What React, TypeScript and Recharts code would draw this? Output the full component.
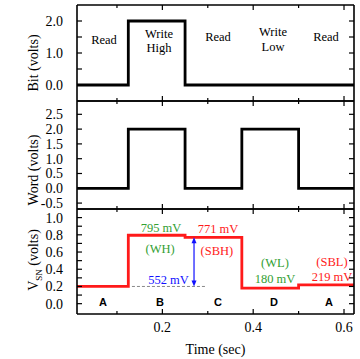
import React from "react";
import { Line, LineChart, ReferenceDot, ReferenceLine, XAxis, YAxis } from "recharts";

const SERIF = "'Liberation Serif', 'Times New Roman', serif";
const SANS = "'Liberation Sans', Arial, sans-serif";

// time axis (sec)
const TIME_DOMAIN = [0.012, 0.622];
const timeTicks = [0.1, 0.2, 0.3, 0.4, 0.5, 0.6];
const timeLabels = ["0.2", "0.4", "0.6"];

// bit line
const bitTimes = [0.012, 0.125, 0.25, 0.622];
const bitVolts = [0, 2, 0, 0];
const bitTicks = [0, 0.5, 1, 1.5, 2];
const bitLabels = ["0.0", "1.0", "2.0"];

// word line
const wordTimes = [0.012, 0.125, 0.25, 0.375, 0.5, 0.622];
const wordVolts = [0, 2, 0, 2, 0, 0];
const wordTicks = [-0.5, 0, 0.5, 1, 1.5, 2, 2.5];
const wordLabels = ["-0.5", "0.0", "0.5", "1.0", "1.5", "2.0", "2.5"];

// storage node voltage
const vsnTimes = [0.012, 0.125, 0.25, 0.375, 0.5, 0.622];
const vsnVolts = [0.2, 0.795, 0.771, 0.18, 0.219, 0.219];
const vsnTicks = [0, 0.1, 0.2, 0.3, 0.4, 0.5, 0.6, 0.7, 0.8, 0.9, 1.0];
const vsnLabels = ["0.0", "0.2", "0.4", "0.6", "0.8", "1.0"];

// operation names over the bit panel (time, volts)
const phaseNotes = [
	{ t: 0.0715, v: 1.41, lines: ["Read"] },
	{ t: 0.1926, v: 1.39, lines: ["Write", "High"] },
	{ t: 0.3225, v: 1.53, lines: ["Read"] },
	{ t: 0.4436, v: 1.44, lines: ["Write", "Low"] },
	{ t: 0.5603, v: 1.53, lines: ["Read"] },
];

// level notes in the V_SN panel
const GREEN = "#33a033";
const RED = "#ff1a1a";
const BLUE = "#1010ff";
const levelNotes = [
	{ t: 0.197, v: 0.884, text: "795 mV", color: GREEN },
	{ t: 0.3225, v: 0.872, text: "771 mV", color: RED },
	{ t: 0.195, v: 0.64, text: "(WH)", color: GREEN },
	{ t: 0.32, v: 0.616, text: "(SBH)", color: RED },
	{ t: 0.2134, v: 0.279, text: "552 mV", color: BLUE },
	{ t: 0.448, v: 0.477, text: "(WL)", color: GREEN },
	{ t: 0.448, v: 0.29, text: "180 mV", color: GREEN },
	{ t: 0.5735, v: 0.488, text: "(SBL)", color: RED },
	{ t: 0.5735, v: 0.314, text: "219 mV", color: RED },
];

const stateLetters = ["A", "B", "C", "D", "A"];
const stateTimes = [0.069, 0.195, 0.3225, 0.446, 0.567];
const STATE_V = 0.017;

const ARROW_T = 0.2697;
const DASH_FROM = 0.133;
const DASH_TO = 0.294;

const W = 360;
const LEFT_W = 77;
const RIGHT_W = 6;
const PLOT_LEFT = LEFT_W;
const PLOT_RIGHT = W - RIGHT_W;

const fmt = (v: number) => v.toFixed(1);

function xTick(axisY: number, dir: number, labels: string[] | null) {
	return (p: any) => {
		const x = p.x;
		const v = p.payload.value;
		const major = Math.round(v * 10) % 2 === 0;
		const len = major ? 5 : 3;
		const label = fmt(v);
		return (
			<g>
				<line x1={x} x2={x} y1={axisY} y2={axisY + dir * len} stroke="#000" strokeWidth={1.2} />
				{labels && labels.includes(label) && (
					<text x={x} y={axisY + 18} textAnchor="middle" fontFamily={SERIF} fontSize={14} fill="#000">
						{label}
					</text>
				)}
			</g>
		);
	};
}

function yTick(axisX: number, dir: number, labels: string[] | null) {
	return (p: any) => {
		const y = p.y;
		const label = fmt(p.payload.value);
		return (
			<g>
				<line x1={axisX} x2={axisX + dir * 5} y1={y} y2={y} stroke="#000" strokeWidth={1.2} />
				{labels && labels.includes(label) && (
					<text x={axisX - 14} y={y + 5} textAnchor="end" fontFamily={SERIF} fontSize={14} fill="#000">
						{label}
					</text>
				)}
			</g>
		);
	};
}

function yTitle(cy: number, main: string, sub?: string) {
	return () => (
		<text
			x={38}
			y={cy}
			transform={`rotate(-90 38 ${cy})`}
			textAnchor="middle"
			fontFamily={SERIF}
			fontSize={14}
			fill="#000"
		>
			{sub ? (
				<>
					<tspan>V</tspan>
					<tspan fontSize={9} dy={4}>
						{sub}
					</tspan>
					<tspan dy={-4}>{main}</tspan>
				</>
			) : (
				main
			)}
		</text>
	);
}

interface FrameCfg {
	topH: number;
	plotH: number;
	bottomH: number;
	domain: number[];
	yTicks: number[];
	yLabels: string[];
	xLabels: string[] | null;
	title: () => React.ReactElement;
	xTitle?: () => React.ReactElement;
}

function frameAxes(c: FrameCfg) {
	const plotTop = c.topH;
	const plotBottom = c.topH + c.plotH;
	const axisLine = { stroke: "#000", strokeWidth: 1.6 };
	return [
		<XAxis
			key="xb"
			type="number"
			dataKey="t"
			domain={TIME_DOMAIN}
			allowDataOverflow
			ticks={timeTicks}
			interval={0}
			height={c.bottomH}
			tickLine={false}
			tickSize={0}
			axisLine={axisLine}
			tick={xTick(plotBottom, -1, c.xLabels)}
			label={c.xTitle ? { content: c.xTitle } : undefined}
		/>,
		<XAxis
			key="xt"
			xAxisId="top"
			orientation="top"
			type="number"
			dataKey="t"
			domain={TIME_DOMAIN}
			allowDataOverflow
			ticks={timeTicks}
			interval={0}
			height={c.topH}
			tickLine={false}
			tickSize={0}
			axisLine={axisLine}
			tick={xTick(plotTop, 1, null)}
		/>,
		<YAxis
			key="yl"
			type="number"
			domain={c.domain}
			allowDataOverflow
			ticks={c.yTicks}
			interval={0}
			width={LEFT_W}
			tickLine={false}
			tickSize={0}
			axisLine={axisLine}
			tick={yTick(PLOT_LEFT, 1, c.yLabels)}
			label={{ content: c.title }}
		/>,
		<YAxis
			key="yr"
			yAxisId="right"
			orientation="right"
			type="number"
			domain={c.domain}
			allowDataOverflow
			ticks={c.yTicks}
			interval={0}
			width={RIGHT_W}
			tickLine={false}
			tickSize={0}
			axisLine={axisLine}
			tick={yTick(PLOT_RIGHT, -1, null)}
		/>,
	];
}

const toRows = (ts: number[], vs: number[]) => ts.map((t, i) => ({ t, v: vs[i] }));

const bitData = toRows(bitTimes, bitVolts);
const wordData = toRows(wordTimes, wordVolts);
const vsnData = toRows(vsnTimes, vsnVolts);

const MARGIN = { top: 0, right: 0, bottom: 0, left: 0 };

function Arrow(p: any) {
	const x = p.x1;
	const yTop = Math.min(p.y1, p.y2);
	const yBot = Math.max(p.y1, p.y2);
	return (
		<g>
			<line x1={x} x2={x} y1={yTop + 4} y2={yBot - 4} stroke={BLUE} strokeWidth={1.2} />
			<path d={`M${x},${yTop} L${x - 2.5},${yTop + 6} L${x + 2.5},${yTop + 6} Z`} fill={BLUE} />
			<path d={`M${x},${yBot} L${x - 2.5},${yBot - 6} L${x + 2.5},${yBot - 6} Z`} fill={BLUE} />
		</g>
	);
}

export default function App(): React.ReactElement {
	return (
		<div style={{ position: "absolute", left: 0, top: 0, width: W, height: 359, background: "#fff" }}>
			<div style={{ position: "absolute", left: 0, top: 0, zIndex: 1 }}>
				<LineChart width={W} height={102} data={bitData} margin={MARGIN}>
					{frameAxes({
						topH: 5,
						plotH: 96,
						bottomH: 1,
						domain: [-0.5, 2.5],
						yTicks: bitTicks,
						yLabels: bitLabels,
						xLabels: null,
						title: yTitle(63, "Bit (volts)"),
					})}
					<Line type="stepAfter" dataKey="v" stroke="#000" strokeWidth={2.8} dot={false} isAnimationActive={false} />
					{phaseNotes.map((n, i) => (
						<ReferenceDot
							key={i}
							x={n.t}
							y={n.v}
							r={0}
							ifOverflow="visible"
							shape={(p: any) => (
								<text
									x={p.cx}
									y={p.cy - (n.lines.length - 1) * 7.25 + 4.5}
									textAnchor="middle"
									fontFamily={SERIF}
									fontSize={12.5}
									fill="#000"
								>
									{n.lines.map((l, j) => (
										<tspan key={j} x={p.cx} dy={j === 0 ? 0 : 14.5}>
											{l}
										</tspan>
									))}
								</text>
							)}
						/>
					))}
				</LineChart>
			</div>
			<div style={{ position: "absolute", left: 0, top: 208, zIndex: 1 }}>
				<LineChart width={W} height={151} data={vsnData} margin={MARGIN}>
					{frameAxes({
						topH: 1,
						plotH: 105,
						bottomH: 45,
						domain: [-0.12, 1.1],
						yTicks: vsnTicks,
						yLabels: vsnLabels,
						xLabels: timeLabels,
						title: yTitle(52, " (volts)", "SN"),
						xTitle: () => (
							<text
								x={(PLOT_LEFT + PLOT_RIGHT) / 2}
								y={146}
								textAnchor="middle"
								fontFamily={SERIF}
								fontSize={14}
								fill="#000"
							>
								Time (sec)
							</text>
						),
					})}
					<ReferenceLine
						segment={[
							{ x: DASH_FROM, y: 0.2 },
							{ x: DASH_TO, y: 0.2 },
						]}
						stroke="#888"
						strokeWidth={1}
						strokeDasharray="3 2"
					/>
					<Line type="stepAfter" dataKey="v" stroke={RED} strokeWidth={2.8} dot={false} isAnimationActive={false} />
					<ReferenceLine
						segment={[
							{ x: ARROW_T, y: 0.2 },
							{ x: ARROW_T, y: vsnVolts[2] },
						]}
						shape={Arrow}
					/>
					{levelNotes.map((n, i) => (
						<ReferenceDot
							key={`n${i}`}
							x={n.t}
							y={n.v}
							r={0}
							ifOverflow="visible"
							shape={(p: any) => (
								<text x={p.cx} y={p.cy + 4.5} textAnchor="middle" fontFamily={SERIF} fontSize={12.5} fill={n.color}>
									{n.text}
								</text>
							)}
						/>
					))}
					{stateLetters.map((s, i) => (
						<ReferenceDot
							key={`s${i}`}
							x={stateTimes[i]}
							y={STATE_V}
							r={0}
							ifOverflow="visible"
							shape={(p: any) => (
								<text
									x={p.cx}
									y={p.cy + 4}
									textAnchor="middle"
									fontFamily={SANS}
									fontWeight="bold"
									fontSize={11}
									fill="#000"
								>
									{s}
								</text>
							)}
						/>
					))}
				</LineChart>
			</div>
			<div style={{ position: "absolute", left: 0, top: 100, zIndex: 5 }}>
				<LineChart width={W} height={110} data={wordData} margin={MARGIN}>
					{frameAxes({
						topH: 1,
						plotH: 108,
						bottomH: 1,
						domain: [-0.7, 2.95],
						yTicks: wordTicks,
						yLabels: wordLabels,
						xLabels: null,
						title: yTitle(70, "Word (volts)"),
					})}
					<Line type="stepAfter" dataKey="v" stroke="#000" strokeWidth={2.8} dot={false} isAnimationActive={false} />
				</LineChart>
			</div>
		</div>
	);
}
